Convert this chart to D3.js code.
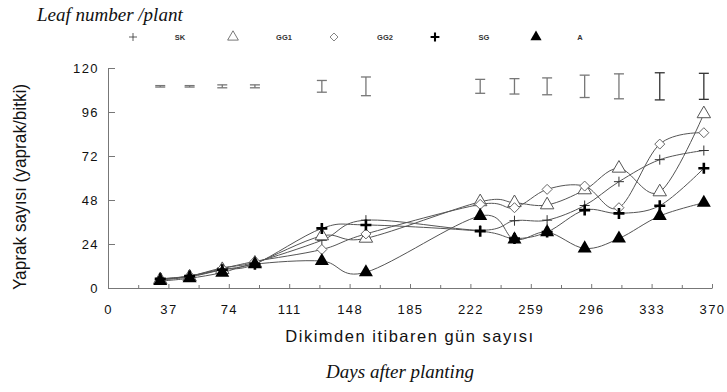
<!DOCTYPE html>
<html>
<head>
<meta charset="utf-8">
<script src="https://cdn.jsdelivr.net/npm/d3@7"></script>
<style>
body{margin:0;background:#fff;}
svg text{font-family:"Liberation Sans",Arial,sans-serif;}
</style>
</head>
<body>
<svg class="graph"></svg>
<script>
let width=727, height=392
let margin={top:68,left:108,right:15,bottom:104}

// sampling days
let days=[32,50,70,90,131,158,228,249,269,292,313,338,365]
let seriesNames=['SK','GG1','GG2','SG','A']
let skValues =[5,6.5,11,14,26,37,31.5,36.7,37,45,58,70,75]
let gg1Values=[4.5,6,10,13.5,28.4,27.1,47,46.5,45.3,53.5,65.3,52.4,95]
let gg2Values=[4.5,6.5,10.5,14.5,21,29.5,45.6,43.8,53.8,55.6,43.8,78.5,84.7]
let sgValues =[5,6.5,10,13,32.5,34.4,31,27,30.5,42.5,40.7,44.9,65.3]
let aValues  =[3.8,5.3,8.4,13,14.7,8.6,39.3,26.5,30.5,21.6,27,39.3,46.5]
// error bars drawn at the top of the plot
let errCenter=110
let errHalf=[0.4,0.4,0.8,0.8,3.2,5.1,3.8,4.2,4.6,6.1,6.8,7.4,7.1]
let xTicks=[0,37,74,111,148,185,222,259,296,333,370]
let xMinorTicks=[18.5,55.5,92.5,129.5,166.5,203.5,240.5,277.5,314.5,351.5]
let yTicks=[0,24,48,72,96,120]

let allValues=[skValues,gg1Values,gg2Values,sgValues,aValues]
let data=seriesNames.map((n,i)=>({name:n,values:days.map((d,j)=>({day:d,v:allValues[i][j]}))}))

let svg=d3.select('.graph').attr('width',width).attr('height',height)

let xscale=d3.scaleLinear().domain([0,370]).range([margin.left,width-margin.right])
let yscale=d3.scaleLinear().domain([0,120]).range([height-margin.bottom,margin.top])

// axes
let xaxis=svg.append('g').attr('transform',`translate(0,${yscale(0)})`)
   .call(d3.axisBottom(xscale).tickValues(xTicks).tickSizeInner(-4).tickSizeOuter(0).tickPadding(14).tickFormat(d3.format('d')))
svg.append('g').attr('transform',`translate(0,${yscale(0)})`)
   .call(d3.axisBottom(xscale).tickValues(xMinorTicks).tickSizeInner(-3).tickSizeOuter(0).tickFormat(''))
   .call(g=>g.select('.domain').remove())
let yaxis=svg.append('g').attr('transform',`translate(${margin.left},0)`)
   .call(d3.axisLeft(yscale).tickValues(yTicks).tickSizeInner(-7).tickSizeOuter(0).tickPadding(9))

svg.selectAll('.domain').attr('stroke','#777')
svg.selectAll('.tick line').attr('stroke','#777')
svg.selectAll('.tick text').style('font-size','13px').style('letter-spacing','1.4px').attr('fill','#111')
xaxis.selectAll('.tick text').attr('dy','0.9em')

// error bars
let eb=svg.append('g')
days.forEach((d,i)=>{
  let col=i>=11?'#333':'#777'
  let x=xscale(d), y1=yscale(errCenter-errHalf[i]), y2=yscale(errCenter+errHalf[i])
  eb.append('line').attr('x1',x).attr('x2',x).attr('y1',y1).attr('y2',y2).attr('stroke',col).attr('stroke-width',1.3)
  eb.append('line').attr('x1',x-5).attr('x2',x+5).attr('y1',y1).attr('y2',y1).attr('stroke',col).attr('stroke-width',1.3)
  eb.append('line').attr('x1',x-5).attr('x2',x+5).attr('y1',y2).attr('y2',y2).attr('stroke',col).attr('stroke-width',1.3)
})

// lines
let line=d3.line().x(d=>xscale(d.day)).y(d=>yscale(d.v)).curve(d3.curveCatmullRom.alpha(0))
svg.selectAll('.serie')
   .data(data)
   .join('path')
   .attr('d',d=>line(d.values))
   .attr('fill','none')
   .attr('stroke','#555')
   .attr('stroke-width',1)

// markers
function drawMarker(g,name){
  if(name=='SK'){
    g.append('path').attr('d','M-5,0H5M0,-5V5').attr('stroke','#333').attr('stroke-width',1)
  }else if(name=='GG1'){
    g.append('path').attr('d',d3.symbol(d3.symbolTriangle,78)).attr('fill','#fff').attr('stroke','#555').attr('stroke-width',1)
  }else if(name=='GG2'){
    g.append('path').attr('d','M0,-5L5,0L0,5L-5,0Z').attr('fill','#fff').attr('stroke','#666').attr('stroke-width',1)
  }else if(name=='SG'){
    g.append('path').attr('d','M-5.5,0H5.5M0,-5.5V5.5').attr('stroke','#000').attr('stroke-width',2.6)
  }else{
    g.append('path').attr('d',d3.symbol(d3.symbolTriangle,85)).attr('fill','#000')
  }
}
data.forEach(s=>{
  s.values.forEach(p=>{
    let g=svg.append('g').attr('transform',`translate(${xscale(p.day)},${yscale(p.v)})`)
    drawMarker(g,s.name)
  })
})

// legend
let legendX=[133,233,334,435,536]
let legendLabelX=[180,284,385,484,580]
let lgY=37
seriesNames.forEach((n,i)=>{
  let g=svg.append('g').attr('transform',`translate(${legendX[i]},${lgY}) scale(0.8)`)
  drawMarker(g,n)
  svg.append('text').attr('x',legendLabelX[i]).attr('y',lgY).attr('dy','0.35em')
     .attr('text-anchor','middle').style('font-size','7.5px').style('font-weight','bold').attr('fill','#333').text(n)
})

// titles
svg.append('text').attr('x',37).attr('y',21)
   .style('font-family','"Liberation Serif","Times New Roman",serif').style('font-style','italic').style('font-size','19px')
   .attr('fill','#111').text('Leaf number /plant')
svg.append('text').attr('x',410).attr('y',342).attr('text-anchor','middle')
   .style('font-size','16.5px').style('letter-spacing','1.5px').attr('fill','#111').text('Dikimden itibaren gün sayısı')
svg.append('text').attr('x',400).attr('y',378).attr('text-anchor','middle')
   .style('font-family','"Liberation Serif","Times New Roman",serif').style('font-style','italic').style('font-size','19px')
   .attr('fill','#111').text('Days after planting')
svg.append('text').attr('transform','translate(26,187) rotate(-90) scale(0.93,1)').attr('text-anchor','middle')
   .style('font-size','18.5px').attr('fill','#111').text('Yaprak sayısı (yaprak/bitki)')
</script>
</body>
</html>
